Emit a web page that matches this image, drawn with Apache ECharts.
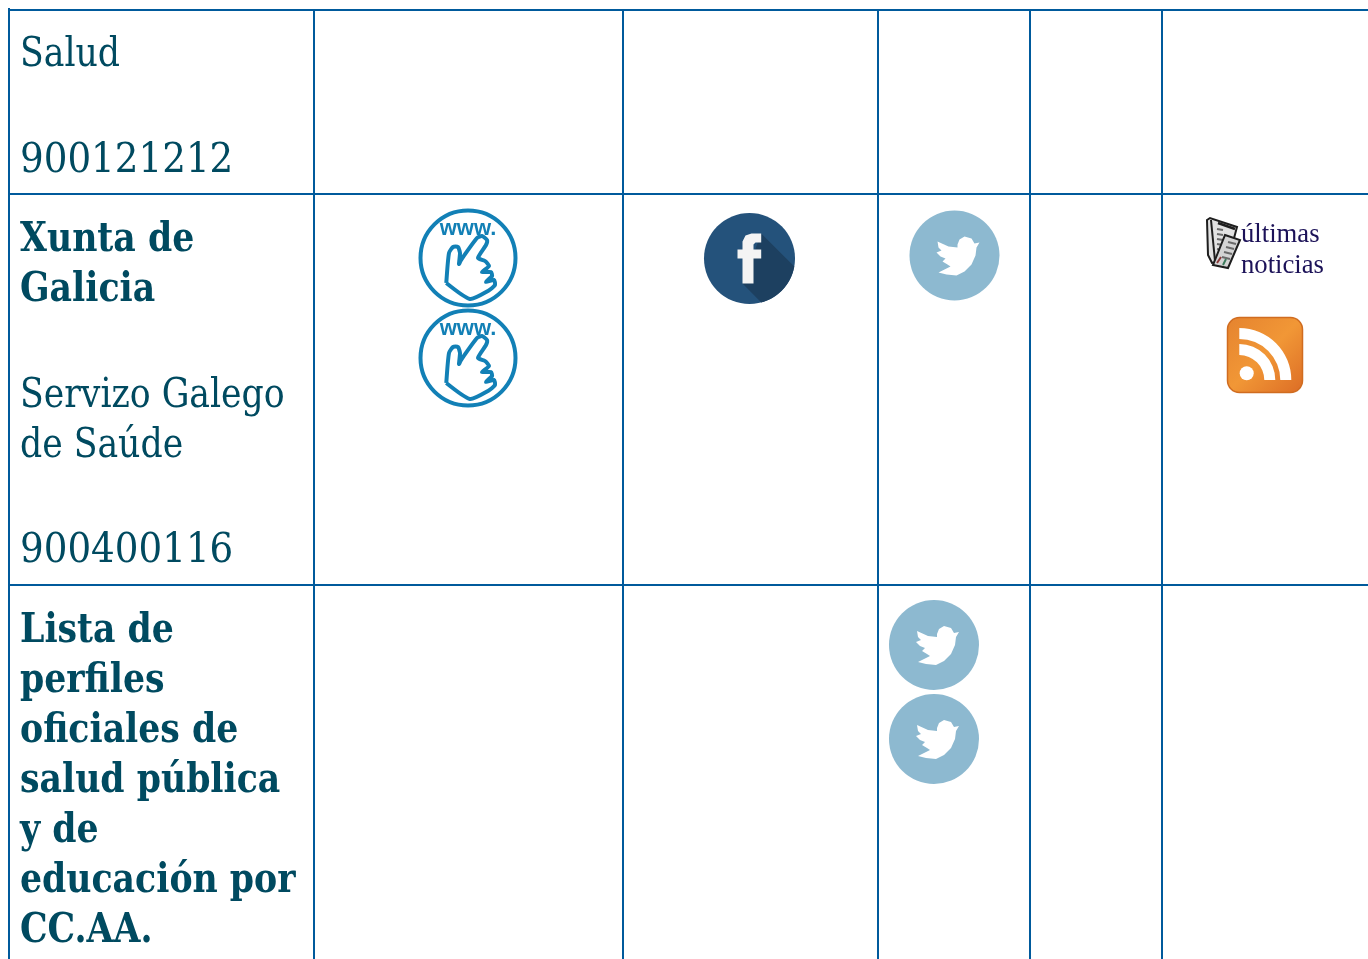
<!DOCTYPE html>
<html>
<head>
<meta charset="utf-8">
<title>Salud</title>
<style>
  html, body { margin: 0; padding: 0; background: #fff; }
  #main { width: 1368px; height: 959px; }
</style>
<script src="https://cdn.jsdelivr.net/npm/echarts@6/dist/echarts.min.js"></script>
</head>
<body>
<div id="main"></div>
<script>
  // table rules
  var columnLines = [9, 314, 623, 878, 1030, 1162];
  var rowLines = [10, 194, 585];

  // first column, line by line: text, baseline, bold
  var cellLines = ['Salud', '900121212', 'Xunta de', 'Galicia', 'Servizo Galego', 'de Saúde', '900400116',
    'Lista de', 'perfiles', 'oficiales de', 'salud pública', 'y de', 'educación por', 'CC.AA.'];
  var cellBaselines = [67, 173, 252, 302, 408, 458, 563, 643, 693, 743, 793, 843, 893, 943];
  var cellBold = [0, 0, 1, 1, 0, 0, 0, 1, 1, 1, 1, 1, 1, 1];

  // icons
  var iconNames = ['www', 'www', 'facebook', 'twitter', 'news', 'rss', 'twitter', 'twitter'];
  var iconX = [468, 468, 749.5, 954.5, 1190, 1265, 934, 934];
  var iconY = [258, 358, 258.5, 255.5, 205, 355, 645, 739];
  var newsWords = ['últimas', 'noticias'];

  var lineColor = '#005a9c';
  var textColor = '#004a60';
  var wwwColor = '#1280b6';

  var stroke = function (points, color, width) {
    return { type: 'polyline', shape: { points: points }, style: { stroke: color, lineWidth: width, fill: 'none' } };
  };

  var builders = {
    www: function () {
      return [
        { type: 'circle', shape: { cx: 0, cy: 0, r: 47.5 }, style: { fill: '#fff', stroke: wwwColor, lineWidth: 4 } },
        { type: 'text', style: { x: 0, y: -29, text: 'www.', font: 'bold 22px "Liberation Sans"', fill: wwwColor, align: 'center', verticalAlign: 'middle' } },
        { type: 'polyline', shape: { smooth: 0.2, points: [[-21.7, 25], [-19, -5], [-15, -11], [-10, -11], [-8, -5], [-9, 6], [-7, 2], [9, -20], [14, -22], [19, -18], [18, -13], [10, 0], [17, 3], [21, 8], [14, 14], [23, 14], [24, 18], [18, 24], [26, 22], [27, 27], [20, 33], [2, 41], [-21.7, 25]] }, style: { fill: 'none', stroke: wwwColor, lineWidth: 4, lineJoin: 'round' } }
      ];
    },
    facebook: function () {
      return [
        { type: 'circle', shape: { cx: 0, cy: 0, r: 45.5 }, style: { fill: '#24527b' } },
        { type: 'polygon', shape: { points: shadowPoints() }, style: { fill: '#1d4060' } },
        { type: 'polygon', shape: { points: [[11.7, -25], [2, -25], [-4, -23], [-7, -17], [-7, -9], [-12, -9], [-12, 0], [-7, 0], [-7, 25], [4, 25], [4, 0], [11.7, 0], [11.7, -9], [4, -9], [4, -14], [6, -16], [11.7, -16]] }, style: { fill: '#f4f4f4' } }
      ];
    },
    twitter: function () {
      return [
        { type: 'circle', shape: { cx: 0, cy: 0, r: 45 }, style: { fill: '#8db9d0' } },
        { type: 'polygon', shape: { points: [[25, -13], [20, -12], [17, -17], [10, -19], [5, -16], [3, -11], [3, -8], [-6, -9], [-17, -14], [-16, -8], [-13, -5], [-18, -3], [-14, 1], [-9, 3], [-12, 6], [-7, 9], [-4, 11], [-16, 17], [-8, 19], [2, 20], [10, 16], [17, 9], [21, 0], [22, -8]] }, style: { fill: '#fff' } }
      ];
    },
    news: function () {
      var ink = '#1e1e1e';
      var grey = '#6a6a6a';
      var els = [
        { type: 'polygon', shape: { points: [[17, 15], [20, 13], [47, 22], [43, 37], [39, 55], [22, 58], [18, 50]] }, style: { fill: '#e2e2e2', stroke: ink, lineWidth: 2 } },
        stroke([[21, 15], [25, 56]], ink, 2),
        stroke([[28, 18], [45, 24]], ink, 2.5)
      ];
      // print on the flat paper
      [24, 29, 34, 39, 44].forEach(function (y) {
        els.push(stroke([[27, y], [33, y + 1]], grey, 2));
      });
      els.push({ type: 'polygon', shape: { points: [[35, 30], [50, 35], [38, 63], [23, 60]] }, style: { fill: '#d4d4d4', stroke: ink, lineWidth: 2 } });
      [37, 42, 47, 52].forEach(function (y, i) {
        els.push(stroke([[38 - i * 2, y], [46 - i * 2, y + 2]], grey, 2));
      });
      els.push(stroke([[27, 58], [31, 52]], '#8a3a3a', 2));
      els.push(stroke([[33, 60], [36, 54]], '#3a7a5a', 2));
      newsWords.forEach(function (w, i) {
        els.push({ type: 'text', style: { x: 51, y: 43 + i * 31, text: w, font: '26.7px "Liberation Serif"', fill: '#1c1258', align: 'left', verticalAlign: 'bottom' } });
      });
      return els;
    },
    rss: function () {
      var white = { fill: '#fff' };
      var originX = -25.7, originY = 25;
      return [
        { type: 'rect', shape: { x: -37.5, y: -37.5, width: 75, height: 75, r: 12 }, style: { stroke: '#d06c20', lineWidth: 1.5, fill: { type: 'linear', x: 0, y: 0, x2: 1, y2: 1, colorStops: [{ offset: 0, color: '#e5832f' }, { offset: 0.5, color: '#f19736' }, { offset: 1, color: '#dc6c25' }] } } },
        { type: 'circle', shape: { cx: -18.3, cy: 18.3, r: 7 }, style: white },
        { type: 'sector', shape: { cx: originX, cy: originY, r0: 25, r: 36, startAngle: -Math.PI / 2, endAngle: 0, clockwise: true }, style: white },
        { type: 'sector', shape: { cx: originX, cy: originY, r0: 41, r: 52, startAngle: -Math.PI / 2, endAngle: 0, clockwise: true }, style: white }
      ];
    }
  };

  // long shadow of the f, end of it follows the circle
  function shadowPoints() {
    var pts = [[11.7, -25]];
    for (var a = 10; a <= 75; a += 5) {
      pts.push([45.5 * Math.cos(a * Math.PI / 180), 45.5 * Math.sin(a * Math.PI / 180)]);
    }
    pts.push([-7, 25]);
    return pts;
  }

  var chart = echarts.init(document.getElementById('main'), null, { renderer: 'canvas' });
  chart.setOption({
    animation: false,
    backgroundColor: '#fff',
    grid: { left: 0, right: 0, top: 0, bottom: 0 },
    xAxis: { type: 'value', min: 0, max: 1368, show: false },
    yAxis: { type: 'value', min: 0, max: 959, inverse: true, show: false },
    series: [{
      type: 'custom',
      clip: false,
      silent: true,
      data: columnLines.map(function (x, i) { return [x, i === 0 ? 8 : 10, x, 959]; })
        .concat(rowLines.map(function (y) { return [9, y, 1368, y]; })),
      renderItem: function (params, api) {
        var a = api.coord([api.value(0), api.value(1)]);
        var b = api.coord([api.value(2), api.value(3)]);
        return { type: 'line', shape: { x1: a[0], y1: a[1], x2: b[0], y2: b[1] }, style: { stroke: lineColor, lineWidth: 2 } };
      }
    }, {
      type: 'custom',
      clip: false,
      silent: true,
      data: cellLines.map(function (t, i) { return [20, cellBaselines[i], cellBold[i]]; }),
      renderItem: function (params, api) {
        var pos = api.coord([api.value(0), api.value(1)]);
        var bold = api.value(2) === 1;
        var digits = /^\d+$/.test(cellLines[params.dataIndex]);
        return {
          type: 'text',
          x: pos[0],
          y: pos[1] + 9,
          // the reference face is narrower than the installed serif
          scaleX: digits ? 1.01 : 0.94,
          style: {
            x: 0, y: 0,
            text: cellLines[params.dataIndex],
            font: (bold ? 'bold ' : '') + '41px "DejaVu Serif Condensed"',
            fill: textColor, align: 'left', verticalAlign: 'bottom'
          }
        };
      }
    }, {
      type: 'custom',
      clip: false,
      silent: true,
      data: iconNames.map(function (n, i) { return [iconX[i], iconY[i]]; }),
      renderItem: function (params, api) {
        var pos = api.coord([api.value(0), api.value(1)]);
        return { type: 'group', x: pos[0], y: pos[1], children: builders[iconNames[params.dataIndex]]() };
      }
    }]
  });
</script>
</body>
</html>
